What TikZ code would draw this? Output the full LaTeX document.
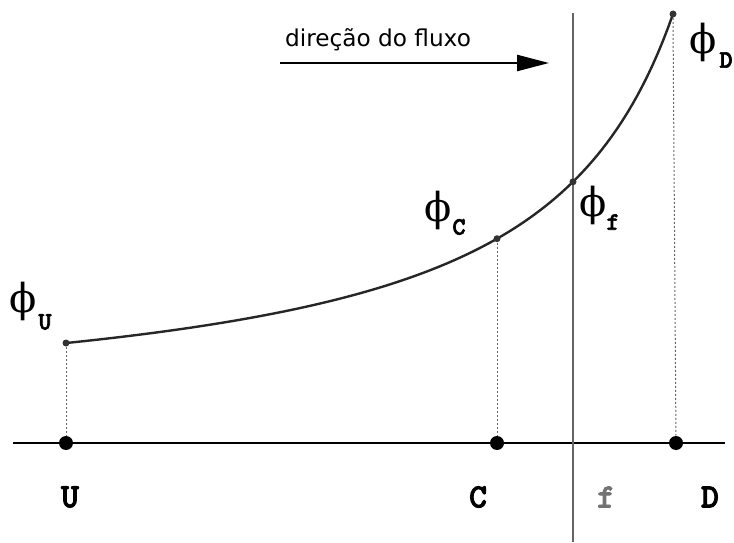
\documentclass[tikz,border=0pt]{standalone}
\usepackage{fontspec}
\setmainfont{DejaVu Sans}
\newfontfamily\phifont{DejaVu Serif}
\newfontfamily\labfont{lmmonolt10-bold}[Extension=.otf,FakeBold=2.5]
\usetikzlibrary{arrows.meta,positioning,calc}

\tikzset{
  bigdot/.style={circle,fill=black,inner sep=0pt,minimum size=7pt},
  smalldot/.style={circle,fill=black!80,inner sep=0pt,minimum size=3.5pt},
  ptlabel/.style={font=\labfont\fontsize{17}{17}\selectfont},
  philabel/.style={font=\phifont\fontsize{20}{20}\selectfont,inner sep=0pt},
  sublabel/.style={font=\labfont\fontsize{12.5}{12.5}\selectfont,inner sep=0pt},
  guide/.style={draw=black!60,line width=0.5pt,dash pattern=on 1pt off 1pt},
}

\begin{document}
\begin{tikzpicture}[x=0.5pt,y=0.5pt]
  \useasboundingbox (0,0) rectangle (734,542);
  \draw[line width=1.3pt] (13,99) -- (725,99); % 軸
  \draw[draw=black!60,line width=1pt] (573,0) -- (573,529); % 面 f
  \node[bigdot] (U) at (66,99) {}; % 点 U
  \node[bigdot] (C) at (497,99) {}; % 点 C
  \node[bigdot] (D) at (676,99) {}; % 点 D
  \draw[line width=1.2pt,black!85] plot[domain=66:673,samples=120]
    (\x,{122+576.48/((815-\x)/100)}); % 分布曲線
  \node[smalldot] (pU) at (66,199) {}; % phi_U
  \node[smalldot] (pC) at (497,303.3) {}; % phi_C
  \node[smalldot] (pF) at (573,360.2) {}; % phi_f
  \node[smalldot] (pD) at (673,528) {}; % phi_D
  \draw[guide] (pU) -- (U); % 点線
  \draw[guide] (pC) -- (C);
  \draw[guide] (pD.south) -- (D);
  \node[ptlabel] (labU) at (70,45) {U};
  \node[ptlabel] (labC) at (478,45) {C};
  \node[ptlabel,text=black!55] (labF) at (606,45) {f};
  \node[ptlabel] (labD) at (710,45) {D};
  \node[philabel] (phiU) at (23,241) {ϕ};
  \node[sublabel] (subU) at (45,220) {U};
  \node[philabel] (phiC) at (438,332) {ϕ};
  \node[sublabel] (subC) at (459,315) {C};
  \node[philabel] (phiF) at (593,337) {ϕ};
  \node[sublabel] (subF) at (613,320) {f};
  \node[philabel] (phiD) at (703,500) {ϕ};
  \node[sublabel] (subD) at (726,482) {D};
  \coordinate (flowA) at (280,479);
  \coordinate (flowB) at (549,479);
  \draw[line width=1.2pt,-{Triangle[length=16pt,width=8pt]}] (flowA) -- (flowB); % 流れの向き
  \node[font=\fontsize{11.6}{11.6}\selectfont] (flow) at (378,502) {direção do fluxo};
\end{tikzpicture}
\end{document}
